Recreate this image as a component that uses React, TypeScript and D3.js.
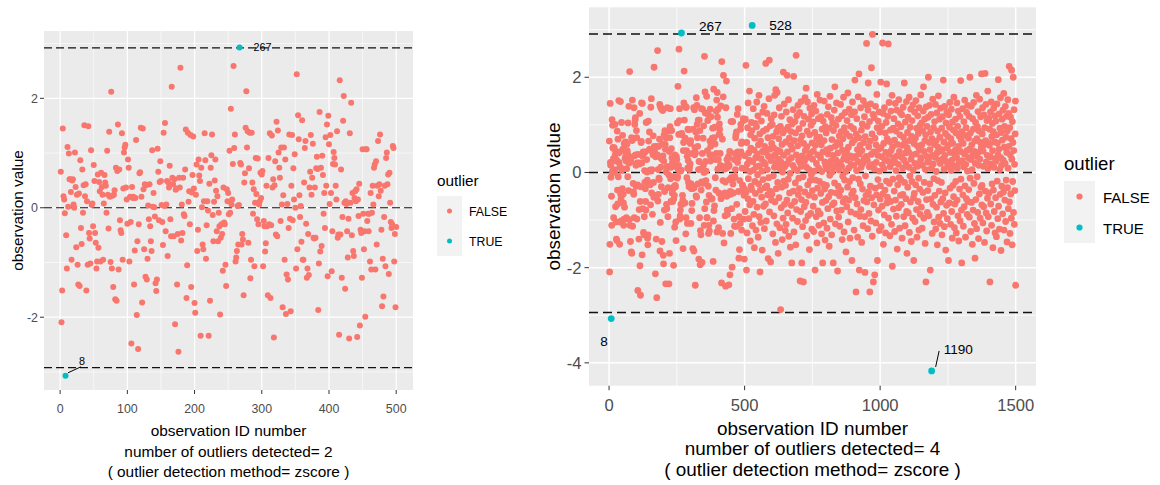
import React from "react";
import * as d3 from "d3";

// observation values, ids 1..500 (shared by both runs)
const firstRun = [
  0.66, -2.09, -1.51, 1.45, 0.21, 0.15, -0.1, -3.07,
  -0.5, -1.11, 1.11, 0.02, 0.99, 0.52, 0.52, 0.29, -0.95, 0.5,
  0.52, 0.06, 0.0, 1.01, 0.38, -0.72, 0.24, -1.04, -1.4, 0.26,
  -1.43, 0.87, -0.37, -0.66, 0.7, -0.09, 0.41, 1.51, 0.21, 0.43,
  -1.51, 0.12, -1.04, 1.49, -0.46, -0.56, -1.02, 1.05, 0.05, 0.08,
  -0.34, 0.78, 0.49, -0.46, -0.64, -1.11, -0.98, 0.61, -0.73, 0.47,
  0.3, -0.98, 0.64, 0.38, 0.24, -0.95, 0.08, 0.6, 0.46, 0.4,
  -0.09, 1.04, 0.24, -0.38, 1.39, 0.2, -0.99, 2.12, -1.11, 0.22,
  -1.45, 0.24, 0.32, -1.67, 0.73, -1.7, 0.67, 1.52, -1.13, 0.7,
  -0.23, -0.41, -0.46, 1.36, -0.95, 0.35, 1.01, 1.1, 1.15, 0.37,
  0.15, -0.29, 0.88, 0.73, -0.98, 0.2, -0.26, -2.48, 0.38, 0.18,
  0.2, -1.4, -0.78, 0.18, 1.24, -1.96, -0.61, -2.58, -0.3, 0.63,
  0.65, 1.46, 0.2, -1.73, 1.45, 0.34, -0.76, 0.43, -1.26, 0.41,
  -1.31, -0.93, 0.04, -0.21, 0.43, -0.34, -0.61, -0.79, 1.05, 0.02,
  0.27, 0.01, -0.16, -1.38, -1.52, -1.31, 1.08, 0.66, -0.23, 0.47,
  0.85, 0.49, 0.05, -0.26, -0.68, 1.37, 0.03, 1.55, -0.43, 0.06,
  0.49, -0.88,
  0.46, 0.37, 0.77, -0.21, -0.52, 2.21, 0.55, 0.43, -0.52, 0.52, -2.13, 0.33,
  0.35, -1.4, -0.48, -2.63, 0.55, 0.37, 2.56, -0.6, 0.06, -0.46, 0.55, -0.12,
  -0.15, 0.7, 1.43, -1.65, -1.05, 1.37, 0.11, 0.3, -0.3, 1.33, -1.45, 0.28,
  0.6, 1.3, 0.35, -1.74, -1.92, 0.24, 0.79, -0.79, -0.4, 0.88, 0.59, 0.49,
  -2.34, 0.73, 0.01, -0.67, -0.76, 0.12, 1.36, 0.87, -0.93, -0.32, 0.12, -0.05,
  -2.34, 0.44, -1.7, 0.73, 0.96, 1.34, -0.13, -0.61, 0.11, 0.5, 0.88, 0.31,
  -0.43, 0.21, -0.61, -0.09, -0.34, -1.95, -0.55, -0.3, -0.48, -1.15, 0.37, -0.27,
  -0.3, -1.04, -1.43, 0.34, 0.12, 0.27, -0.12, 1.04, -0.09, 1.81, 0.06, 0.15,
  0.8, 2.59, 1.09, 1.34, -0.98, -0.91, -0.79, 0.03, -0.67, 0.05,
  2.93,
  0.82, 0.79, -0.67, -0.48, -0.58, -1.6, 0.46, 0.63, 1.46, 2.13, 1.1, 1.4, -0.64,
  0.72, 1.37, -1.29, -0.95, 1.37, 0.46, -0.11, 0.34, -1.07, 0.09, 0.91, 0.25,
  -0.21, 0.9, -0.3, 0.06, 0.12, 0.64, 0.18, 0.61, 0.67, -1.07, -0.24, -0.34, -0.8,
  -0.65, 0.4, -0.34, -1.6, 0.91, -0.3, 1.36, -1.65, -0.32, 1.32, 0.37, 0.52,
  -2.37, 0.41, 0.85, -0.49, 1.57, -0.52, 1.41, 1.01, 0.73, 0.55, -0.24, 1.1, 0.06,
  -1.82, 0.23, 1.1, -0.95, 0.88, -1.94, -1.22, 0.07, -1.31, -0.37, 1.34, -0.2,
  -1.89, 0.4,
  1.33, -0.23, 0.72, 0.15, 0.98, 0.0, -1.11, 2.44, -0.76, 1.69,
  1.25, 0.23, -0.17, 0.03, -0.62, 1.6, -0.95, -0.95, 0.46, 1.09,
  1.22, -0.29, -1.28, -1.11, -0.48, -1.23, 0.37, 0.66, 1.33, 0.24,
  0.55, 1.17, -0.55, -0.56, 0.37, -0.55, 0.72, 0.93, 0.71, -1.87,
  -1.02, 1.75, -0.8, 0.73, -0.7, 0.95, 0.6, -0.11, 0.27, -0.37,
  1.29, 0.4, 1.52, -1.25, 1.68, 1.16, 0.07, 1.33, 0.27, -1.16,
  -0.43, 0.8, 1.02, 0.91, 0.79, 0.4, 0.15, 1.4, -0.55, -0.49,
  -2.32,
  2.33, -0.49, 0.7, -1.28, -0.17, 1.59, 2.04, 0.09, -1.48, 0.12, 0.07, -0.43, -0.91, -0.2,
  -2.39,
  1.36, 0.09, 1.92, -0.5, 0.27, -0.79, -0.88, 0.18, 0.3, 0.12, 0.34,
  -2.36,
  0.15, -0.15, 0.44,
  -2.15,
  -0.4, -0.46, -1.28, 1.07, -0.11, -0.76,
  -0.43, -1.99, 1.07, 1.07, -0.24, -0.11, -0.43, -0.11, -0.98, 0.27,
  -1.13, -0.09, 0.4, 0.06, 0.73, 0.79, -1.13, 0.85, -0.67, 0.4,
  1.22, 0.21, 0.43, 1.34, 0.31, -0.4, -1.8, -0.93, -1.62, -0.17,
  0.4, -1.07, 0.91, 1.01, 0.43, 0.61, -1.21, 0.64, 0.09, -0.26,
  -0.37, -0.3, 1.13, 1.09, -0.98, -0.48, -1.82, -0.35,
];

// observation values, ids 501..1500 (second run only)
const laterRun = [
  0.35, -0.82, 1.12, 0.07, 2.25, -0.41, -2.05, 0.63, -1.27, 0.18, 0.94, -0.55, 1.46, -0.13, 0.41, -0.97, 0.26, 1.71, -0.68, 0.02, -1.44, 0.79, 0.51, -0.29, 1.05,
  -0.36, 0.88, 3.09, -1.12, 0.23, -0.61, 1.34, 0.05, -0.88, 0.47, -1.58, 0.72, -0.19, 1.03, -0.44, 0.31, -1.21, 0.12, 0.96, 1.48, -0.73, 0.39, -0.05, 1.19, -1.36,
  0.58, -0.24, 1.62, -0.93, 0.14, 0.81, -2.09, -0.37, 0.66, -1.05, 0.29, 1.08, -0.52, 0.03, -1.63, 0.44, 1.27, -0.15, 0.87, -0.71, 0.21, 1.39, -1.18, 0.55, -0.32,
  0.17, -0.66, 2.29, 0.42, -1.02, 0.91, -0.28, 1.24, 0.06, -0.47, 0.73, -1.81, 0.34, -0.11, 1.55, 2.36, -0.83, 0.49, -0.39, 0.98, -1.88, 0.25, 1.13, -0.58, 0.61,
  -0.45, 1.01, 0.33, -1.29, 0.76, -0.07, 0.52, -0.91, 1.21, 0.11, 1.62, -0.62, 0.38, -1.47, 1.74, 0.19, -0.34, 0.85, -1.08, 1.68, 0.47, -0.21, 0.93, -1.7, 0.28,
  0.71, -0.53, 1.36, 0.09, -1.16, 0.44, 0.97, -2.88, 0.22, -0.74, 1.18, -0.31, 0.59, -1.41, 0.01, 0.83, -0.96, 2.11, 0.36, -0.18, 1.44, -0.67, 0.12, 0.89, -1.22,
  -0.27, 0.64, -1.09, 1.27, 0.18, -0.58, 2.04, 0.43, -0.85, 0.95, -0.14, 1.53, -1.34, 0.27, 0.72, -0.43, 1.11, -0.02, -1.57, 0.58, 0.86, -0.69, 0.31, -1.9, 1.02,
  0.49, -0.96, 0.15, 1.32, -0.39, 2.02, -1.25, 0.67, 0.08, -0.61, 1.07, -0.22, 0.83, -1.52, 2.46, 0.37, -0.78, 1.19, 0.04, -1.03, 0.56, 1.41, -0.47, 0.26, -0.12,
  0.92, -0.34, 1.26, 0.21, -2.28, 0.68, -0.82, 1.49, 0.13, -0.57, -1.9, 0.77, 0.35, -1.14, 1.03, -0.09, -2.3, 0.61, 1.18, -0.72, 0.24, -0.41, 1.57, 0.46, -1.01,
  -0.63, 1.77, 0.11, -1.33, 0.54, 0.87, 1.48, -0.26, -0.91, 0.32, 1.12, -0.48, 0.06, -1.62, 0.79, 1.35, -0.17, 0.41, -0.86, 0.99, -0.05, 1.23, -1.19, 0.62, -0.38,
  0.28, 1.06, -0.71, 0.45, -1.24, 1.41, 0.03, -0.52, 0.84, -2.05, 0.57, -0.16, 1.29, -0.93, 0.19, 0.72, -1.48, 1.64, -0.33, 0.37, -0.81, 1.13, 0.09, -1.11, 0.66,
  -0.19, 0.74, 1.52, -0.87, 0.31, -0.44, 1.17, 0.58, -1.29, 0.02, 0.91, -0.63, -1.9, 0.43, 1.08, -0.25, -1.06, 0.67, 1.5, -0.35, 0.22, -1.42, 0.96, 0.14, -0.59,
  0.83, -0.27, 0.48, -1.17, 1.22, 0.07, -0.76, 0.39, 1.38, -0.51, 0.16, -1.55, 0.93, -0.06, 1.6, -0.98, 0.51, 0.24, -0.42, 1.15, -1.31, 0.69, 0.01, -0.68, 1.04,
  0.36, -1.9, 0.88, 0.12, -0.64, 1.31, -0.22, 1.8, 0.55, -1.08, 0.27, 0.99, -0.43, 1.46, -0.81, 0.18, 0.63, -2.07, 0.41, -0.29, 1.12, -0.94, 0.05, 0.77, -0.49,
  -1.13, 0.59, 0.21, 1.43, -0.37, 0.86, -0.79, 0.13, 1.19, -1.41, 0.47, -0.08, 0.71, -0.62, 1.58, 0.29, -1.25, 0.94, -0.16, 0.38, 1.26, -0.55, 0.02, -1.67, 0.82,
  0.44, -0.72, 1.09, 0.26, -0.31, 1.67, -1.04, 0.53, 0.09, -0.58, 1.33, -0.19, 0.76, -1.38, 0.35, 0.97, -0.83, 0.17, 1.21, -0.46, -1.85, 0.62, 1.48, -0.11, 0.31,
  -0.39, 0.92, 0.15, -1.21, 0.68, 1.27, 1.94, -0.53, 0.34, -0.87, -2.51, 0.81, 0.04, 1.13, -0.66, 0.48, -1.36, 0.23, 1.59, -0.14, 0.73, 2.07, -2.05, 0.39, -0.92,
  0.57, -0.24, 1.36, -0.78, 0.11, 0.89, -1.47, 0.46, 1.02, -0.35, 0.19, -1.12, 1.51, 0.63, -0.59, 0.28, 1.17, -0.93, -2.1, 0.75, -0.07, 1.42, -0.48, 0.34, 2.71,
  -0.62, 0.97, 0.25, -1.18, 1.31, 1.88, -0.41, 0.54, -0.86, 0.12, 1.07, -2.51, 0.66, -0.29, 1.44, -1.02, 0.38, 2.2, -0.53, 0.81, -1.34, 2.9, 0.17, 1.22, -2.3,
  0.43, -0.68, 1.15, 0.07, -2.15, 0.72, -0.33, 1.39, -1.06, 0.58, 0.21, -0.47, 1.64, 0.94, -1.85, 0.36, -0.15, 1.08, -0.79, 0.49, 1.27, -1.22, 0.03, 0.85, -0.56,
  -0.28, 1.9, 0.52, -1.14, 0.33, 0.97, -0.71, 0.16, 2.72, -0.45, 1.24, -1.51, 0.61, 0.08, -0.89, 1.36, 0.27, -0.37, 0.83, -1.27, 0.42, 1.05, -0.18, 1.86, -0.64,
  0.71, -0.52, 1.18, 0.24, 2.7, -0.96, 0.38, 1.47, -0.23, 0.65, -1.33, 0.12, 0.89, -0.61, 1.29, 0.46, -1.09, 0.19, 1.62, -1.97, 0.54, -0.14, 0.93, -0.77, 0.31,
  1.13, -0.39, 0.68, -1.24, 0.22, 1.45, -0.58, 0.04, 0.87, -0.92, 1.31, 0.35, -1.61, 0.59, -0.26, 1.02, 0.17, -0.74, 1.53, -0.11, 0.44, -1.17, 0.79, 1.26, -0.48,
  -0.15, 0.96, -0.67, 0.32, 1.21, -1.38, 0.57, 0.09, -0.46, 1.37, 0.74, -0.93, 0.26, 1.88, -0.21, 0.63, -1.12, 1.06, 0.41, -0.55, 0.18, 1.49, -0.82, -1.7, 0.52,
  0.84, -0.31, 1.16, -0.85, 0.43, 0.11, 1.58, -1.26, 0.67, -0.07, 0.95, -0.62, 1.33, 0.28, -1.45, 0.76, -0.19, 1.09, 0.37, -0.96, 1.42, 0.05, -0.53, -1.85, 0.61,
  -0.44, 1.27, 0.19, -1.03, 0.72, -0.26, 1.51, 0.39, -0.78, 0.93, -1.36, 0.56, 0.13, 1.19, -0.61, 0.82, -0.12, -1.21, 1.36, 0.47, -0.35, 0.99, -0.88, 0.25, 1.63,
  0.31, -0.73, 1.04, 0.58, -1.17, 0.15, 0.88, -0.42, 1.29, 1.8, -0.96, 0.44, -0.21, 1.12, 0.67, -1.49, 0.06, 0.79, -2.3, 1.38, -0.57, 0.34, 0.97, -0.84, 0.22,
  -0.38, 1.16, 2.0, 0.27, -0.91, 0.63, 1.41, -0.24, 0.48, -2.05, 0.85, -0.56, 1.22, 0.09, -4.17, 0.71, -1.28, 0.36, 1.54, -0.67, 0.18, 0.94, -0.13, -1.04, 0.59,
  1.07, -0.48, 0.32, 1.43, -1.19, 0.66, 0.02, -0.73, 1.25, 0.41, -1.52, 0.87, -0.17, 0.53, 1.61, -0.94, 0.26, -0.39, 1.12, 0.74, -1.07, 0.19, 1.35, -0.62, 0.45,
  -0.21, 0.93, -1.31, 0.48, 1.17, -0.55, 0.29, 1.94, -0.86, 0.64, 0.07, -1.14, 1.39, 0.36, -0.43, 0.82, -1.63, 1.04, 0.23, -0.69, 1.27, 0.51, -0.97, 0.13, 0.76,
  0.58, -1.85, 1.21, 0.17, -0.64, 0.95, 1.47, -0.33, 0.42, -1.09, 0.71, 0.04, 1.33, -0.82, 0.26, -1.38, 1.06, 0.61, -0.27, 0.89, -0.51, 1.58, 0.14, -1.16, 0.38,
  -0.66, 0.47, 1.12, -0.19, 0.83, -1.27, 0.32, 1.46, -0.58, 0.09, 0.97, -0.91, 1.29, 0.55, -1.44, 0.21, 0.76, -0.35, 1.18, -1.02, 0.44, 1.93, -0.14, 0.68, -0.79,
  -1.9, 0.86, 0.25, 1.34, -0.47, 0.61, -1.13, 0.12, 1.07, -0.72, 0.39, 1.52, -0.28, 0.78, -1.36, 0.17, 0.94, -0.55, 1.26, 0.46, -0.88, 0.03, 1.41, -0.61, 0.31,
  0.72, -0.36, 1.18, -0.94, 0.49, 2.0, -0.12, 0.83, -1.24, 0.27, 1.39, -0.63, 0.58, 0.06, -1.51, 1.13, 0.37, -0.79, 0.91, 1.47, -0.23, 0.44, -1.07, 0.66, -1.8,
  0.19, 1.05, -0.57, 0.34, 1.62, -1.18, 0.71, -0.09, 0.96, -0.84, 1.28, 0.42, -1.39, 0.15, 0.87, -0.45, 1.54, 0.28, -0.96, 0.63, 1.17, -0.31, 0.52, 2.07, -0.68,
  -0.27, 0.81, 1.36, -1.06, 0.45, 0.13, -0.72, 1.21, 0.58, -1.47, 0.94, 2.08, -0.39, 0.67, 1.43, -0.85, 0.22, -1.23, 1.09, 0.36, -0.54, 1.71, 0.08, -0.93, 0.62,
  1.14, -0.43, 0.57, 0.91, -2.3, 0.33, 1.27, -0.66, 0.18, 1.48, -1.11, 0.75, -0.24, 1.03, 0.46, -1.58, 0.86, -0.37, 1.35, 0.11, -0.82, 0.64, 1.19, -1.27, 0.29,
  -0.53, 1.08, 0.24, -1.35, 0.79, 1.44, -0.18, 0.62, -0.97, 0.37, 1.95, -0.71, 0.49, 1.23, -1.19, 0.06, 0.93, -0.46, 1.57, 0.31, -1.64, 0.84, 0.15, -0.29, 1.12,
  0.68, -0.87, 1.31, 0.26, -0.41, 1.66, -1.21, 0.53, 0.97, -0.58, 0.19, 1.39, -1.03, 0.74, -0.16, 1.18, 0.42, -1.46, 0.87, -0.32, 1.53, 0.09, -0.76, 1.24, 0.55,
  2.23, -0.62, 0.94, -1.28, 0.37, 1.16, -0.45, 0.71, -0.96, 2.15, 0.28, -1.52, 1.07, -0.19, 0.63, 2.0, -0.84, 0.46, 1.32, -1.09, 0.17, -0.38, 0.81, 1.5, -2.37,
];

const outliersA = [8, 267];
const outliersB = [8, 267, 528, 1190];
const cutoffsA = [-2.92, 2.92];
const cutoffsB = [-2.94, 2.91];
const xTicksA = [0, 100, 200, 300, 400, 500];
const xMinorA = [50, 150, 250, 350, 450];
const xTicksB = [0, 500, 1000, 1500];
const xMinorB = [250, 750, 1250];
const yTicksA = [-2, 0, 2];
const yMinorA = [-3, -1, 1, 3];
const yTicksB = [-4, -2, 0, 2];
const yMinorB = [-3, -1, 1, 3];
const legendLabels = ["FALSE", "TRUE"];
const captionsA = [
  "observation ID number",
  "number of outliers detected= 2",
  "( outlier detection method= zscore )",
];
const captionsB = [
  "observation ID number",
  "number of outliers detected= 4",
  "( outlier detection method= zscore )",
];

const FONT = '"Liberation Sans", Arial, Helvetica, sans-serif';
const COLORS = ["#F8766D", "#00BFC4"];

const panels = [
  {
    values: firstRun,
    outliers: outliersA,
    cutoffs: cutoffsA,
    captions: captionsA,
    xTicks: xTicksA, xMinor: xMinorA, yTicks: yTicksA, yMinor: yMinorA,
    xDomain: [-24, 525], yDomain: [-3.33, 3.23],
    x0: 44, x1: 413, y0: 31, y1: 390,
    r: 3.0, tickSize: 12.4, titleSize: 15.4, labelSize: 10.8,
    tickLen: 4, xLabelGap: 23, yLabelGap: 6,
    captionY: [436, 456.5, 477], yTitleX: 23,
    gridMajor: 1.2, gridMinor: 0.6, dash: "8 4", dashWidth: 1.2,
    legend: { x: 437, titleY: 186, keyY: 196, keyW: 25, keyH: 30, textX: 469, titleSize: 15.3, textSize: 12.3, r: 2.5 },
    notes: [
      { id: 267, dx: 14, dy: 4 },
      { id: 8, dx: 13.5, dy: -10.5, seg: [2.5, -3, 15.5, -9] },
    ],
  },
  {
    values: firstRun.concat(laterRun),
    outliers: outliersB,
    cutoffs: cutoffsB,
    captions: captionsB,
    xTicks: xTicksB, xMinor: xMinorB, yTicks: yTicksB, yMinor: yMinorB,
    xDomain: [-74, 1575], yDomain: [-4.48, 3.47],
    x0: 589, x1: 1036, y0: 7.3, y1: 385.7,
    r: 3.4, tickSize: 16.6, titleSize: 18.9, labelSize: 13.6,
    tickLen: 4.5, xLabelGap: 25.3, yLabelGap: 7,
    captionY: [434.5, 455, 475.5], yTitleX: 560,
    gridMajor: 1.5, gridMinor: 0.75, dash: "9 5", dashWidth: 1.5,
    legend: { x: 1064, titleY: 170, keyY: 181, keyW: 31, keyH: 31, textX: 1103, titleSize: 18.6, textSize: 15, r: 3.1 },
    notes: [
      { id: 267, dx: 17.6, dy: -2.4 },
      { id: 528, dx: 17, dy: 5 },
      { id: 8, dx: -11, dy: 27.5 },
      { id: 1190, dx: 12, dy: -17, seg: [4, -4, 7.5, -20] },
    ],
  },
];

function Panel({ p }: { p: any }) {
  const x = d3.scaleLinear().domain(p.xDomain).range([p.x0, p.x1]);
  const y = d3.scaleLinear().domain(p.yDomain).range([p.y1, p.y0]);
  const cx = (p.x0 + p.x1) / 2;
  const cy = (p.y0 + p.y1) / 2;
  const lg = p.legend;
  return (
    <g fontFamily={FONT}>
      <rect x={p.x0} y={p.y0} width={p.x1 - p.x0} height={p.y1 - p.y0} fill="#EBEBEB" />
      {p.yMinor.map((t: number) => (
        <line key={"ym" + t} x1={p.x0} x2={p.x1} y1={y(t)} y2={y(t)} stroke="#fff" strokeWidth={p.gridMinor} />
      ))}
      {p.xMinor.map((t: number) => (
        <line key={"xm" + t} x1={x(t)} x2={x(t)} y1={p.y0} y2={p.y1} stroke="#fff" strokeWidth={p.gridMinor} />
      ))}
      {p.yTicks.map((t: number) => (
        <line key={"yg" + t} x1={p.x0} x2={p.x1} y1={y(t)} y2={y(t)} stroke="#fff" strokeWidth={p.gridMajor} />
      ))}
      {p.xTicks.map((t: number) => (
        <line key={"xg" + t} x1={x(t)} x2={x(t)} y1={p.y0} y2={p.y1} stroke="#fff" strokeWidth={p.gridMajor} />
      ))}
      {p.cutoffs.concat([0]).map((c: number) => (
        <line key={"c" + c} x1={p.x0} x2={p.x1} y1={y(c)} y2={y(c)} stroke="#111" strokeWidth={p.dashWidth} strokeDasharray={p.dash} />
      ))}
      {p.values.map((v: number, i: number) => {
        const hit = p.outliers.includes(i + 1) ? 1 : 0;
        return <circle key={i} cx={x(i + 1)} cy={y(v)} r={p.r} fill={COLORS[hit]} />;
      })}
      {p.notes.map((n: any) => {
        const px = x(n.id);
        const py = y(p.values[n.id - 1]);
        return (
          <g key={"n" + n.id}>
            {n.seg && (
              <line x1={px + n.seg[0]} y1={py + n.seg[1]} x2={px + n.seg[2]} y2={py + n.seg[3]} stroke="#000" strokeWidth={1} />
            )}
            <text x={px + n.dx} y={py + n.dy} fontSize={p.labelSize} fill="#000">
              {n.id}
            </text>
          </g>
        );
      })}
      {p.yTicks.map((t: number) => (
        <g key={"yt" + t}>
          <line x1={p.x0 - p.tickLen} x2={p.x0} y1={y(t)} y2={y(t)} stroke="#333" strokeWidth={1} />
          <text x={p.x0 - p.tickLen - p.yLabelGap + 4} y={y(t)} dy="0.36em" textAnchor="end" fontSize={p.tickSize} fill="#4D4D4D">
            {t}
          </text>
        </g>
      ))}
      {p.xTicks.map((t: number) => (
        <g key={"xt" + t}>
          <line x1={x(t)} x2={x(t)} y1={p.y1} y2={p.y1 + p.tickLen} stroke="#333" strokeWidth={1} />
          <text x={x(t)} y={p.y1 + p.xLabelGap} textAnchor="middle" fontSize={p.tickSize} fill="#4D4D4D">
            {t}
          </text>
        </g>
      ))}
      {p.captions.map((c: string, i: number) => (
        <text key={"cap" + i} x={cx} y={p.captionY[i]} textAnchor="middle" fontSize={p.titleSize} fill="#000">
          {c}
        </text>
      ))}
      <text transform={`translate(${p.yTitleX},${cy}) rotate(-90)`} textAnchor="middle" fontSize={p.titleSize} fill="#000">
        observation value
      </text>
      <text x={lg.x} y={lg.titleY} fontSize={lg.titleSize} fill="#000">
        outlier
      </text>
      <rect x={lg.x} y={lg.keyY} width={lg.keyW} height={lg.keyH * 2} fill="#F2F2F2" />
      {legendLabels.map((l, i) => {
        const ky = lg.keyY + lg.keyH * (i + 0.5);
        return (
          <g key={l}>
            <circle cx={lg.x + lg.keyW / 2} cy={ky} r={lg.r} fill={COLORS[i]} />
            <text x={lg.textX} y={ky} dy="0.4em" fontSize={lg.textSize} fill="#000">
              {l}
            </text>
          </g>
        );
      })}
    </g>
  );
}

export default function App() {
  return (
    <div style={{ position: "absolute", left: 0, top: 0 }}>
      <svg width={1160} height={485} style={{ display: "block", background: "#fff" }}>
        {panels.map((p, i) => (
          <Panel key={i} p={p} />
        ))}
      </svg>
    </div>
  );
}
